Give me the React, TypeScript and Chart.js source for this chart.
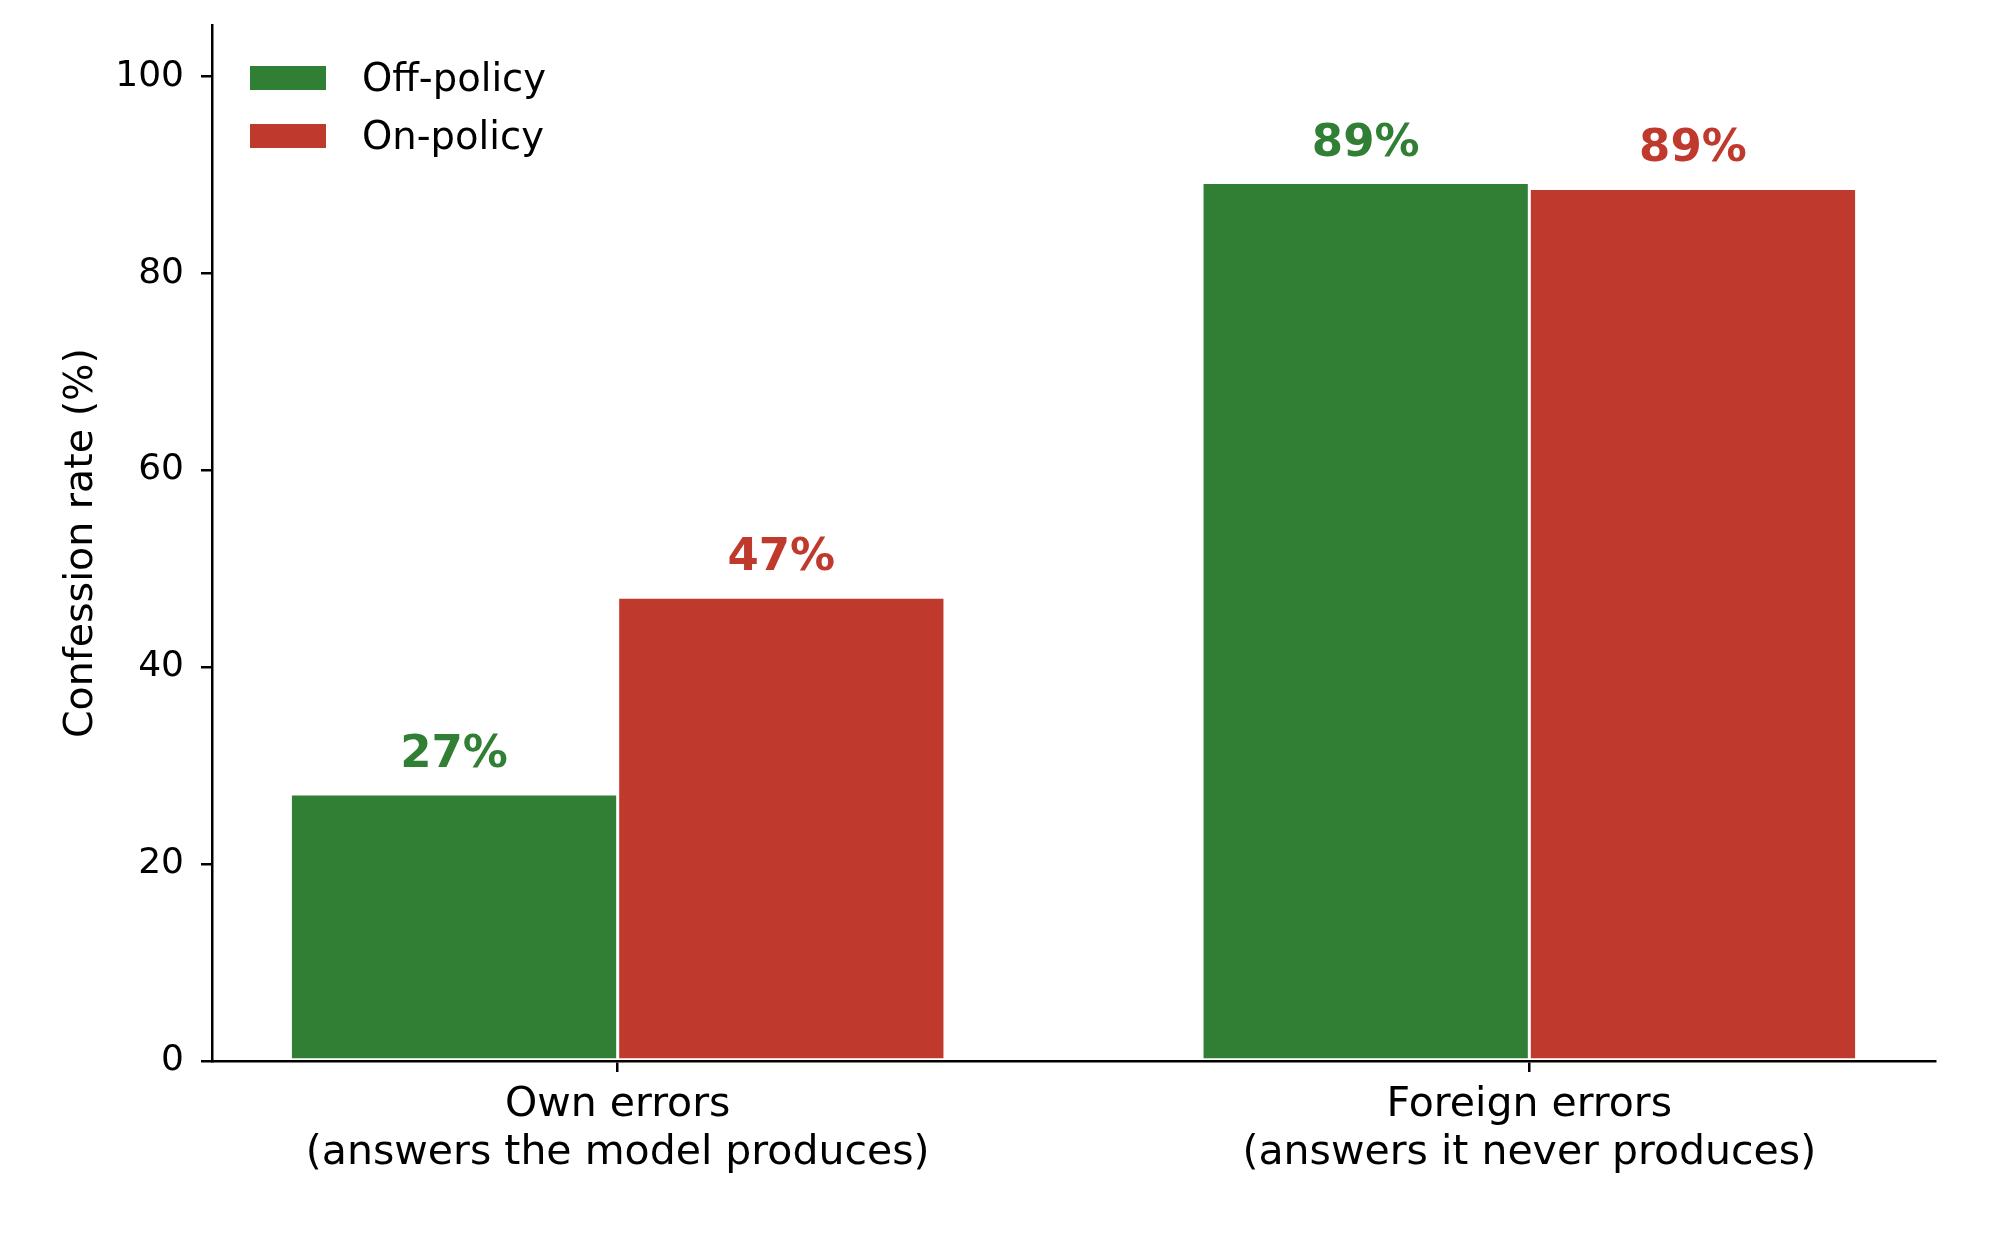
import React, { useEffect, useRef } from 'react';
import { Chart, registerables } from 'chart.js';

Chart.register(...registerables);

// Data
const categories: string[][] = [
  ['Own errors', '(answers the model produces)'],
  ['Foreign errors', '(answers it never produces)'],
];
const offPolicy: number[] = [27.1, 89.2];
const onPolicy: number[] = [47.1, 88.6];
const seriesNames: string[] = ['Off-policy', 'On-policy'];
const seriesColors: string[] = ['#317f34', '#c0392d'];
const yTicks: number[] = [0, 20, 40, 60, 80, 100];

const FONT = "'DejaVu Sans', 'Noto Sans', sans-serif";

// Percent labels above each bar
const barLabels = {
  id: 'barLabels',
  afterDatasetsDraw(chart: Chart) {
    const ctx = chart.ctx;
    ctx.save();
    ctx.font = `bold 45px ${FONT}`;
    ctx.textAlign = 'center';
    ctx.textBaseline = 'alphabetic';
    chart.data.datasets.forEach((ds: any, di: number) => {
      const meta = chart.getDatasetMeta(di);
      ctx.fillStyle = ds.backgroundColor;
      meta.data.forEach((el: any, i: number) => {
        const v = ds.data[i].y;
        ctx.fillText(Math.round(v) + '%', el.x, el.y - 27);
      });
    });
    ctx.restore();
  },
};

// Legend drawn inside the plot, top-left like matplotlib's
const innerLegend = {
  id: 'innerLegend',
  afterDraw(chart: Chart) {
    const { ctx, chartArea } = chart;
    ctx.save();
    ctx.font = `38.5px ${FONT}`;
    ctx.textAlign = 'left';
    ctx.textBaseline = 'middle';
    chart.data.datasets.forEach((ds: any, i: number) => {
      const x = chartArea.left + 38;
      const y = chartArea.top + 41 + i * 58;
      ctx.fillStyle = ds.backgroundColor;
      ctx.fillRect(x, y, 76, 24);
      ctx.fillStyle = '#000';
      ctx.fillText(ds.label, x + 112, y + 15);
    });
    ctx.restore();
  },
};

const App: React.FC = () => {
  const canvasRef = useRef<HTMLCanvasElement>(null);
  const chartRef = useRef<Chart | null>(null);

  useEffect(() => {
    if (!canvasRef.current) return;
    Chart.defaults.color = '#000';
    Chart.defaults.font.family = FONT;

    const makeData = (vals: number[]) => vals.map((v, i) => ({ x: i, y: v }));

    chartRef.current = new Chart(canvasRef.current, {
      type: 'bar',
      data: {
        datasets: [
          {
            label: seriesNames[0],
            data: makeData(offPolicy) as any,
            backgroundColor: seriesColors[0],
            borderColor: '#ffffff',
            borderWidth: 1.5,
            borderSkipped: false,
          },
          {
            label: seriesNames[1],
            data: makeData(onPolicy) as any,
            backgroundColor: seriesColors[1],
            borderColor: '#ffffff',
            borderWidth: 1.5,
            borderSkipped: false,
          },
        ],
      },
      options: {
        animation: false,
        responsive: true,
        maintainAspectRatio: false,
        categoryPercentage: 0.718,
        barPercentage: 1.0,
        layout: { padding: { top: 25, right: 64, left: 0, bottom: 0 } },
        plugins: {
          legend: { display: false },
          tooltip: { enabled: false },
        },
        scales: {
          x: {
            type: 'linear',
            offset: false,
            min: -0.445,
            max: 1.445,
            afterBuildTicks: (scale: any) => {
              scale.ticks = categories.map((_, i) => ({ value: i }));
            },
            afterFit: (scale: any) => {
              scale.height = 178;
              scale.paddingLeft = 0;
              scale.paddingRight = 0;
            },
            ticks: {
              autoSkip: false,
              maxRotation: 0,
              padding: 9,
              color: '#000',
              font: { size: 41, family: FONT, lineHeight: 1.17 },
              callback: (value: any) => categories[Number(value)] ?? '',
            },
            grid: {
              display: true,
              offset: false,
              drawOnChartArea: false,
              drawTicks: true,
              tickLength: 11,
              color: '#000',
              lineWidth: 2.5,
            },
            border: { display: true, color: '#000', width: 2.5 },
          },
          y: {
            min: 0,
            max: 105.2,
            afterBuildTicks: (scale: any) => {
              scale.ticks = yTicks.map((v) => ({ value: v }));
            },
            afterFit: (scale: any) => {
              scale.width = 212;
              scale.paddingTop = 0;
              scale.paddingBottom = 0;
            },
            ticks: {
              padding: 17,
              color: '#000',
              font: { size: 36, family: FONT },
            },
            grid: {
              display: true,
              drawOnChartArea: false,
              drawTicks: true,
              tickLength: 11,
              color: '#000',
              lineWidth: 2.5,
            },
            border: { display: true, color: '#000', width: 2.5 },
            title: {
              display: true,
              text: 'Confession rate (%)',
              color: '#000',
              font: { size: 39.5, family: FONT },
              padding: { top: 58, bottom: 0 },
            },
          },
        },
      },
      plugins: [barLabels, innerLegend],
    });

    return () => {
      if (chartRef.current) {
        chartRef.current.destroy();
        chartRef.current = null;
      }
    };
  }, []);

  return (
    <div style={{ position: 'fixed', top: 0, left: 0, width: 1999, height: 1239, background: '#fff' }}>
      <canvas ref={canvasRef}></canvas>
    </div>
  );
};

export default App;
